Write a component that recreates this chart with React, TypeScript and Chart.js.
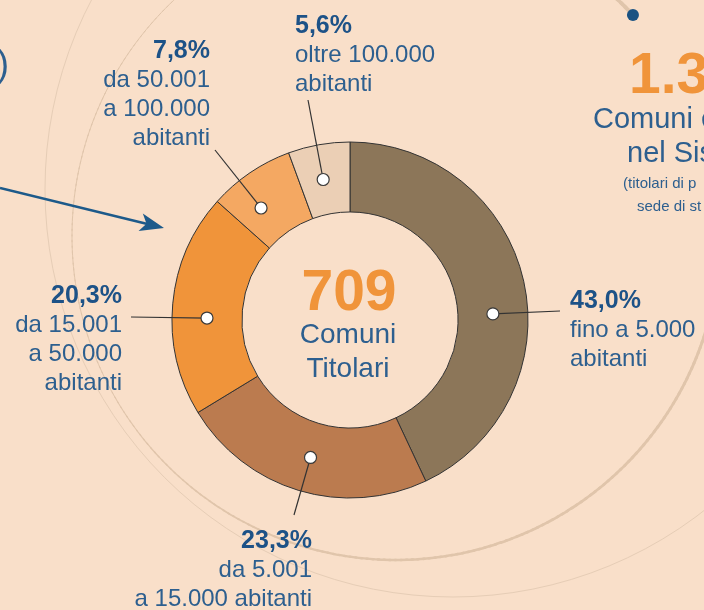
import React, { useEffect, useRef } from 'react';
import { Chart, registerables } from 'chart.js';

Chart.register(...registerables);

// ---- data ----
const categories = [
  'fino a 5.000 abitanti',
  'da 5.001 a 15.000 abitanti',
  'da 15.001 a 50.000 abitanti',
  'da 50.001 a 100.000 abitanti',
  'oltre 100.000 abitanti',
];
const shares = [43.0, 23.3, 20.3, 7.8, 5.6];
const labelLines = [
  ['fino a 5.000', 'abitanti'],
  ['da 5.001', 'a 15.000 abitanti'],
  ['da 15.001', 'a 50.000', 'abitanti'],
  ['da 50.001', 'a 100.000', 'abitanti'],
  ['oltre 100.000', 'abitanti'],
];
const sliceColors = ['#8c7659', '#bb7b4f', '#f0943a', '#f4a862', '#ebcfb5'];
const totalTitolari = '709';
const centerLines = ['Comuni', 'Titolari'];
const sideNumber = '1.3';
const sideLines = ['Comuni c', 'nel Sis'];
const sideNote = ['(titolari di p', 'sede di st'];

// ---- styling / layout ----
const BG = '#f9dfc9';
const BLUE = '#2d5f8f';
const BLUE_BOLD = '#1d5287';
const ORANGE = '#f0943a';
const FONT = '"Liberation Sans", Arial, sans-serif';
const LINE_H = 29;

const labelLayout = [
  { x: 570, y: 308, align: 'left', ax: 560, ay: 311 },
  { x: 312, y: 548, align: 'right', ax: 294, ay: 515 },
  { x: 122, y: 303, align: 'right', ax: 131, ay: 317 },
  { x: 210, y: 58, align: 'right', ax: 215, ay: 150 },
  { x: 295, y: 33, align: 'left', ax: 308, ay: 100 },
];

const fmtPct = (v: number) => v.toFixed(1).replace('.', ',') + '%';

function widthAt(deg: number) {
  const pts = [
    [0, 3],
    [90, 2.5],
    [150, 1],
    [270, 1],
    [300, 2],
    [320, 4.5],
  ];
  for (let i = 0; i < pts.length - 1; i++) {
    const [a, wa] = pts[i];
    const [b, wb] = pts[i + 1];
    if (deg >= a && deg <= b) return wa + ((deg - a) / (b - a)) * (wb - wa);
  }
  return 3;
}

const decorPlugin = {
  id: 'decor',
  beforeDraw(chart: any) {
    const ctx = chart.ctx as CanvasRenderingContext2D;
    ctx.save();
    ctx.fillStyle = BG;
    ctx.fillRect(0, 0, chart.width, chart.height);

    // big thin circle
    ctx.strokeStyle = '#e6cdb6';
    ctx.lineWidth = 1;
    ctx.beginPath();
    ctx.arc(453, 189, 408, 0, Math.PI * 2);
    ctx.stroke();

    // inner circle with varying width, ending at the blue dot
    ctx.strokeStyle = '#e0c5ab';
    ctx.lineCap = 'round';
    const startDeg = 5;
    const endDeg = 317;
    for (let d = startDeg; d < endDeg; d += 1) {
      ctx.lineWidth = widthAt(d);
      ctx.beginPath();
      ctx.arc(396, 236, 324, (d * Math.PI) / 180, ((d + 1.2) * Math.PI) / 180);
      ctx.stroke();
    }
    // blue dot
    const dr = (endDeg * Math.PI) / 180;
    ctx.fillStyle = '#1a5282';
    ctx.beginPath();
    ctx.arc(396 + 324 * Math.cos(dr), 236 + 324 * Math.sin(dr), 6, 0, Math.PI * 2);
    ctx.fill();

    // arrow
    const x0 = 0, y0 = 188, x1 = 164, y1 = 228;
    const len = Math.hypot(x1 - x0, y1 - y0);
    const ux = (x1 - x0) / len, uy = (y1 - y0) / len;
    const px = -uy, py = ux;
    ctx.strokeStyle = '#1d5a8a';
    ctx.fillStyle = '#1d5a8a';
    ctx.lineWidth = 2.5;
    ctx.lineCap = 'butt';
    ctx.beginPath();
    ctx.moveTo(x0, y0);
    ctx.lineTo(x1 - 16 * ux, y1 - 16 * uy);
    ctx.stroke();
    ctx.beginPath();
    ctx.moveTo(x1, y1);
    ctx.lineTo(x1 - 24 * ux + 9 * px, y1 - 24 * uy + 9 * py);
    ctx.lineTo(x1 - 18 * ux, y1 - 18 * uy);
    ctx.lineTo(x1 - 24 * ux - 9 * px, y1 - 24 * uy - 9 * py);
    ctx.closePath();
    ctx.fill();

    // cropped bracket top-left
    ctx.fillStyle = BLUE;
    ctx.font = `36px ${FONT}`;
    ctx.textAlign = 'left';
    ctx.textBaseline = 'alphabetic';
    ctx.fillText(')', -3, 76);

    // right side texts
    ctx.fillStyle = ORANGE;
    ctx.font = `bold 57px ${FONT}`;
    ctx.fillText(sideNumber, 629, 93);
    ctx.fillStyle = BLUE;
    ctx.font = `29px ${FONT}`;
    ctx.fillText(sideLines[0], 593, 128);
    ctx.fillText(sideLines[1], 627, 162);
    ctx.font = `15px ${FONT}`;
    ctx.fillText(sideNote[0], 623, 188);
    ctx.fillText(sideNote[1], 637, 211);
    ctx.restore();
  },
  afterDatasetsDraw(chart: any) {
    const ctx = chart.ctx as CanvasRenderingContext2D;
    const meta = chart.getDatasetMeta(0);
    ctx.save();
    meta.data.forEach((arc: any, i: number) => {
      const p = arc.getProps(['x', 'y', 'startAngle', 'endAngle', 'innerRadius', 'outerRadius'], true);
      const L = labelLayout[i];
      let ang = Math.atan2(L.ay - p.y, L.ax - p.x);
      while (ang < p.startAngle) ang += Math.PI * 2;
      while (ang > p.startAngle + Math.PI * 2) ang -= Math.PI * 2;
      if (ang > p.endAngle) {
        const dEnd = ang - p.endAngle;
        const dStart = p.startAngle + Math.PI * 2 - ang;
        ang = dEnd < dStart ? p.endAngle - 0.05 : p.startAngle + 0.05;
      }
      const r = (p.innerRadius + p.outerRadius) / 2;
      const dx = p.x + r * Math.cos(ang);
      const dy = p.y + r * Math.sin(ang);

      ctx.strokeStyle = '#333333';
      ctx.lineWidth = 1.2;
      ctx.beginPath();
      ctx.moveTo(L.ax, L.ay);
      ctx.lineTo(dx, dy);
      ctx.stroke();

      ctx.fillStyle = '#ffffff';
      ctx.strokeStyle = '#3a3a3a';
      ctx.lineWidth = 1.2;
      ctx.beginPath();
      ctx.arc(dx, dy, 6, 0, Math.PI * 2);
      ctx.fill();
      ctx.stroke();

      ctx.textAlign = L.align as CanvasTextAlign;
      ctx.textBaseline = 'alphabetic';
      ctx.fillStyle = BLUE_BOLD;
      ctx.font = `bold 25px ${FONT}`;
      ctx.fillText(fmtPct(shares[i]), L.x, L.y);
      ctx.fillStyle = BLUE;
      ctx.font = `24px ${FONT}`;
      labelLines[i].forEach((t, k) => ctx.fillText(t, L.x, L.y + LINE_H * (k + 1)));
    });

    // center text
    const a0 = meta.data[0];
    const cx = a0.x, cy = a0.y;
    ctx.textAlign = 'center';
    ctx.fillStyle = ORANGE;
    ctx.font = `bold 57px ${FONT}`;
    ctx.fillText(totalTitolari, cx - 1, cy - 10);
    ctx.fillStyle = BLUE;
    ctx.font = `28px ${FONT}`;
    ctx.fillText(centerLines[0], cx - 2, cy + 23);
    ctx.fillText(centerLines[1], cx - 2, cy + 57);
    ctx.restore();
  },
};

export default function App() {
  const ref = useRef<HTMLCanvasElement | null>(null);
  useEffect(() => {
    if (!ref.current) return;
    const chart = new Chart(ref.current, {
      type: 'doughnut',
      data: {
        labels: categories,
        datasets: [
          {
            data: shares,
            backgroundColor: sliceColors,
            borderColor: '#333333',
            borderWidth: 1,
            hoverOffset: 0,
          },
        ],
      },
      options: {
        responsive: false,
        animation: false,
        devicePixelRatio: 1,
        cutout: '60.7%',
        events: [],
        layout: { padding: { left: 171.5, right: 175.5, top: 141.5, bottom: 111.5 } },
        plugins: { legend: { display: false }, tooltip: { enabled: false } },
      },
      plugins: [decorPlugin],
    });
    return () => chart.destroy();
  }, []);
  return (
    <div style={{ position: 'fixed', left: 0, top: 0, width: 704, height: 610, overflow: 'hidden' }}>
      <canvas ref={ref} width={704} height={610} style={{ display: 'block', width: 704, height: 610 }} />
    </div>
  );
}
